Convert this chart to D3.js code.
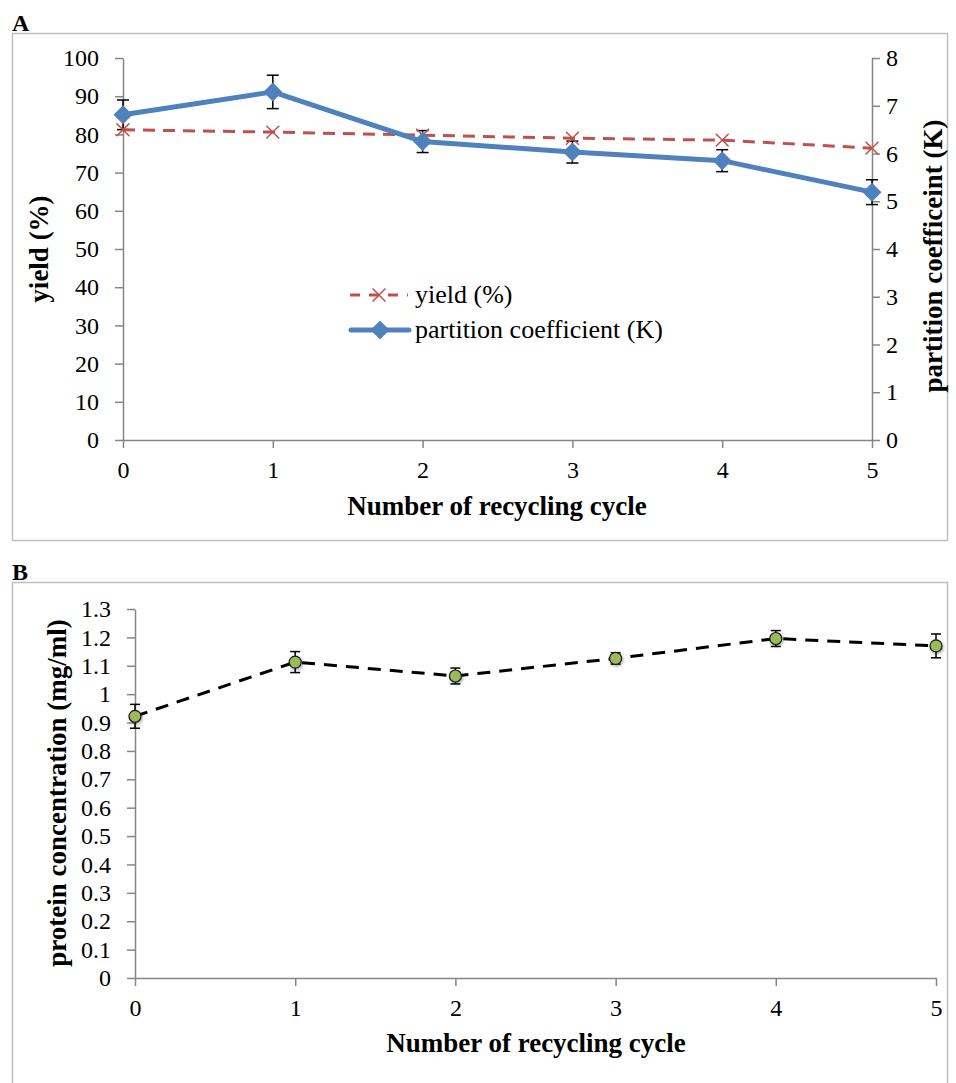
<!DOCTYPE html>
<html>
<head>
<meta charset="utf-8">
<script src="https://cdn.jsdelivr.net/npm/d3@7"></script>
<style>
  body { margin: 0; background: #fff; }
  text { font-family: "Liberation Serif", "Times New Roman", serif; }
</style>
</head>
<body>
<svg id="chart" width="956" height="1083"></svg>
<script>
// data
var cycles = [0, 1, 2, 3, 4, 5];
var yieldPct = [81.2, 80.6, 79.8, 79.0, 78.5, 76.4];
var kValues = [6.81, 7.29, 6.25, 6.03, 5.85, 5.19];
var kErr = [0.31, 0.35, 0.23, 0.23, 0.23, 0.26];
var protein = [0.922, 1.113, 1.064, 1.126, 1.196, 1.170];
var proteinErr = [0.042, 0.037, 0.028, 0.02, 0.028, 0.042];
var yieldTicks = d3.range(0, 101, 10);
var kTicks = d3.range(0, 9, 1);
var proteinTicks = d3.range(0, 14).map(d => d / 10);

var svg = d3.select("#chart");
var axisGray = "#868686";
var red = "#c0504d", blue = "#4f81bd", green = "#9bbb59";

// panel frames
svg.append("rect").attr("x", 12.5).attr("y", 33.5).attr("width", 935).attr("height", 507)
  .attr("fill", "none").attr("stroke", "#bfbfbf").attr("stroke-width", 1.5);
svg.append("rect").attr("x", 12.5).attr("y", 582.5).attr("width", 935).attr("height", 520)
  .attr("fill", "none").attr("stroke", "#bfbfbf").attr("stroke-width", 1.5);
svg.append("text").attr("x", 12).attr("y", 31).text("A")
  .style("font-weight", "bold").style("font-size", "24px");
svg.append("text").attr("x", 12).attr("y", 580).text("B")
  .style("font-weight", "bold").style("font-size", "24px");

function styleAxis(g) {
  g.select(".domain").attr("stroke", axisGray).attr("stroke-width", 1.5);
  g.selectAll(".tick line").attr("stroke", axisGray).attr("stroke-width", 1.5);
  g.selectAll(".tick text").style("font-size", "24px").attr("fill", "#000")
    .style("font-family", "Liberation Serif, serif");
}

// ---------- panel A ----------
var xA = d3.scaleLinear().domain([0, 5]).range([123, 872]);
var yL = d3.scaleLinear().domain([0, 100]).range([440, 58]);
var yR = d3.scaleLinear().domain([0, 8]).range([440, 58]);

svg.append("g").attr("transform", "translate(0,440)")
  .call(d3.axisBottom(xA).tickValues(cycles).tickFormat(d3.format("d")).tickSize(8).tickSizeOuter(0).tickPadding(13))
  .call(styleAxis);
svg.append("g").attr("transform", "translate(123,0)")
  .call(d3.axisLeft(yL).tickValues(yieldTicks).tickSize(8).tickSizeOuter(0).tickPadding(16))
  .call(styleAxis);
svg.append("g").attr("transform", "translate(872,0)")
  .call(d3.axisRight(yR).tickValues(kTicks).tickSize(8).tickSizeOuter(0).tickPadding(6))
  .call(styleAxis);

// K error bars
var eb = svg.append("g").attr("stroke", "#000").attr("stroke-width", 1.5);
cycles.forEach(function(c, i) {
  var x = xA(c), y1 = yR(kValues[i] - kErr[i]), y2 = yR(kValues[i] + kErr[i]);
  eb.append("line").attr("x1", x).attr("x2", x).attr("y1", y1).attr("y2", y2);
  eb.append("line").attr("x1", x - 6).attr("x2", x + 6).attr("y1", y1).attr("y2", y1);
  eb.append("line").attr("x1", x - 6).attr("x2", x + 6).attr("y1", y2).attr("y2", y2);
});

// yield line
svg.append("path").datum(cycles)
  .attr("d", d3.line().x(d => xA(d)).y((d, i) => yL(yieldPct[i])))
  .attr("fill", "none").attr("stroke", red).attr("stroke-width", 3).attr("stroke-dasharray", "12,8");
var cross = d3.symbol().type(d3.symbolX).size(110);
svg.selectAll(".ym").data(cycles).enter().append("path")
  .attr("transform", (d, i) => "translate(" + xA(d) + "," + yL(yieldPct[i]) + ")")
  .attr("d", cross).attr("fill", "none").attr("stroke", red).attr("stroke-width", 1.5);

// K line
svg.append("path").datum(cycles)
  .attr("d", d3.line().x(d => xA(d)).y((d, i) => yR(kValues[i])))
  .attr("fill", "none").attr("stroke", blue).attr("stroke-width", 5).attr("stroke-linejoin", "round");
var diamond = d3.symbol().type(d3.symbolDiamond2).size(230);
svg.selectAll(".km").data(cycles).enter().append("path")
  .attr("transform", (d, i) => "translate(" + xA(d) + "," + yR(kValues[i]) + ")")
  .attr("d", diamond).attr("fill", blue);

// legend
var lg = svg.append("g");
lg.append("line").attr("x1", 350).attr("x2", 408).attr("y1", 295).attr("y2", 295)
  .attr("stroke", red).attr("stroke-width", 3).attr("stroke-dasharray", "10,9");
lg.append("path").attr("transform", "translate(379,295)").attr("d", cross)
  .attr("fill", "none").attr("stroke", red).attr("stroke-width", 1.5);
lg.append("text").attr("x", 415).attr("y", 303).text("yield (%)").style("font-size", "26px");
lg.append("line").attr("x1", 351).attr("x2", 409).attr("y1", 330).attr("y2", 330)
  .attr("stroke", blue).attr("stroke-width", 5).attr("stroke-linecap", "round");
lg.append("path").attr("transform", "translate(380,330)").attr("d", diamond).attr("fill", blue);
lg.append("text").attr("x", 415).attr("y", 338).text("partition coefficient (K)").style("font-size", "26px");

// titles A
svg.append("text").attr("x", 497).attr("y", 515).attr("text-anchor", "middle")
  .text("Number of recycling cycle").style("font-weight", "bold").style("font-size", "27px");
svg.append("text").attr("transform", "translate(48,249) rotate(-90)").attr("text-anchor", "middle")
  .text("yield (%)").style("font-weight", "bold").style("font-size", "27px");
svg.append("text").attr("transform", "translate(942,256) rotate(-90)").attr("text-anchor", "middle")
  .text("partition coefficeint (K)").style("font-weight", "bold").style("font-size", "27px");

// ---------- panel B ----------
var xB = d3.scaleLinear().domain([0, 5]).range([135, 936]);
var yB = d3.scaleLinear().domain([0, 1.3]).range([978, 609]);

svg.append("g").attr("transform", "translate(0,978)")
  .call(d3.axisBottom(xB).tickValues(cycles).tickFormat(d3.format("d")).tickSize(8).tickSizeOuter(0).tickPadding(13))
  .call(styleAxis);
svg.append("g").attr("transform", "translate(135,0)")
  .call(d3.axisLeft(yB).tickValues(proteinTicks).tickFormat(d3.format("")).tickSize(8).tickSizeOuter(0).tickPadding(16))
  .call(styleAxis);

var shadow = svg.append("defs").append("filter").attr("id", "sh")
  .attr("x", "-50%").attr("y", "-50%").attr("width", "200%").attr("height", "200%");
shadow.append("feDropShadow").attr("dx", 1).attr("dy", 1.5).attr("stdDeviation", 1.5)
  .attr("flood-color", "#000").attr("flood-opacity", 0.35);

svg.append("path").datum(cycles)
  .attr("d", d3.line().x(d => xB(d)).y((d, i) => yB(protein[i])))
  .attr("fill", "none").attr("stroke", "#000").attr("stroke-width", 3).attr("stroke-dasharray", "13,9");

var ebB = svg.append("g").attr("stroke", "#000").attr("stroke-width", 1.5);
cycles.forEach(function(c, i) {
  var x = xB(c), y1 = yB(protein[i] - proteinErr[i]), y2 = yB(protein[i] + proteinErr[i]);
  ebB.append("line").attr("x1", x).attr("x2", x).attr("y1", y1).attr("y2", y2);
  ebB.append("line").attr("x1", x - 5).attr("x2", x + 5).attr("y1", y1).attr("y2", y1);
  ebB.append("line").attr("x1", x - 5).attr("x2", x + 5).attr("y1", y2).attr("y2", y2);
});

svg.selectAll(".pm").data(cycles).enter().append("circle")
  .attr("cx", d => xB(d)).attr("cy", (d, i) => yB(protein[i])).attr("r", 6)
  .attr("fill", green).attr("stroke", "#1a1a1a").attr("stroke-width", 1.2)
  .attr("filter", "url(#sh)");

svg.append("text").attr("x", 536).attr("y", 1052).attr("text-anchor", "middle")
  .text("Number of recycling cycle").style("font-weight", "bold").style("font-size", "27px");
svg.append("text").attr("transform", "translate(66,793) rotate(-90)").attr("text-anchor", "middle")
  .text("protein concentration (mg/ml)").style("font-weight", "bold").style("font-size", "27px");
</script>
</body>
</html>
